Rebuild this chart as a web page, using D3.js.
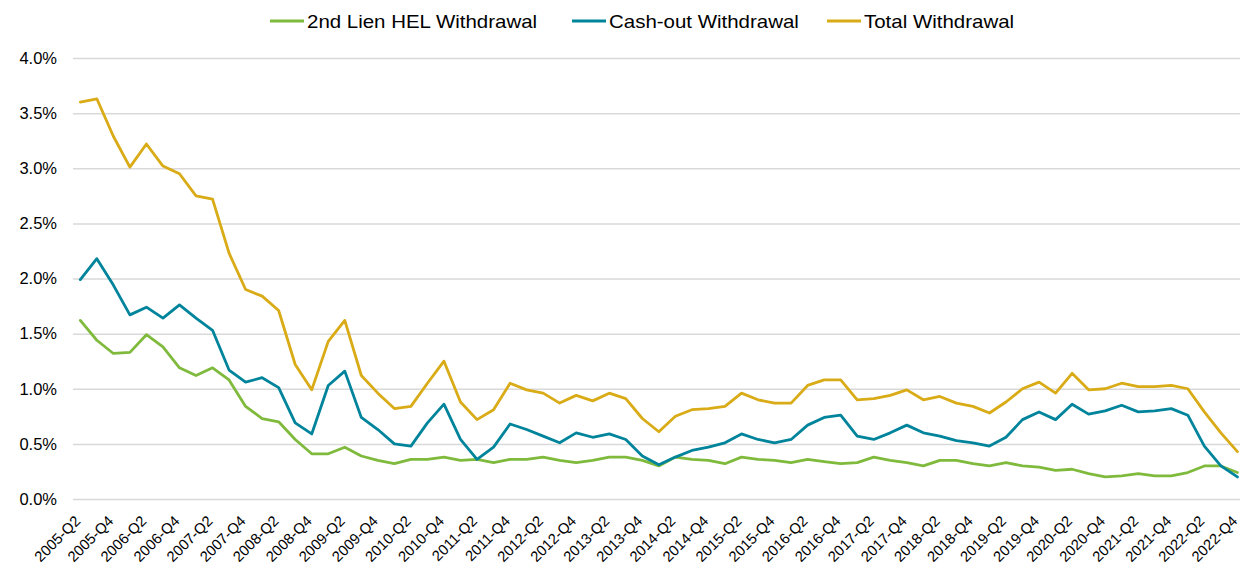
<!DOCTYPE html>
<html>
<head>
<meta charset="utf-8">
<script src="https://cdn.jsdelivr.net/npm/d3@7"></script>
<style>
  html, body { margin: 0; padding: 0; background: #fff; }
  svg { display: block; font-family: "Liberation Sans", Arial, sans-serif; }
</style>
</head>
<body>
<svg id="chart" width="1240" height="571"></svg>
<script>
const quarters = [
  "2005-Q2","2005-Q3","2005-Q4",
  "2006-Q1","2006-Q2","2006-Q3","2006-Q4",
  "2007-Q1","2007-Q2","2007-Q3","2007-Q4",
  "2008-Q1","2008-Q2","2008-Q3","2008-Q4",
  "2009-Q1","2009-Q2","2009-Q3","2009-Q4",
  "2010-Q1","2010-Q2","2010-Q3","2010-Q4",
  "2011-Q1","2011-Q2","2011-Q3","2011-Q4",
  "2012-Q1","2012-Q2","2012-Q3","2012-Q4",
  "2013-Q1","2013-Q2","2013-Q3","2013-Q4",
  "2014-Q1","2014-Q2","2014-Q3","2014-Q4",
  "2015-Q1","2015-Q2","2015-Q3","2015-Q4",
  "2016-Q1","2016-Q2","2016-Q3","2016-Q4",
  "2017-Q1","2017-Q2","2017-Q3","2017-Q4",
  "2018-Q1","2018-Q2","2018-Q3","2018-Q4",
  "2019-Q1","2019-Q2","2019-Q3","2019-Q4",
  "2020-Q1","2020-Q2","2020-Q3","2020-Q4",
  "2021-Q1","2021-Q2","2021-Q3","2021-Q4",
  "2022-Q1","2022-Q2","2022-Q3","2022-Q4"
];

const xTickLabels = [
  "2005-Q2","2005-Q4","2006-Q2","2006-Q4","2007-Q2","2007-Q4","2008-Q2","2008-Q4",
  "2009-Q2","2009-Q4","2010-Q2","2010-Q4","2011-Q2","2011-Q4","2012-Q2","2012-Q4",
  "2013-Q2","2013-Q4","2014-Q2","2014-Q4","2015-Q2","2015-Q4","2016-Q2","2016-Q4",
  "2017-Q2","2017-Q4","2018-Q2","2018-Q4","2019-Q2","2019-Q4","2020-Q2","2020-Q4",
  "2021-Q2","2021-Q4","2022-Q2","2022-Q4"
];

const yTicks = [0, 0.5, 1.0, 1.5, 2.0, 2.5, 3.0, 3.5, 4.0];

const seriesNames = ["2nd Lien HEL Withdrawal", "Cash-out Withdrawal", "Total Withdrawal"];
const seriesColors = ["#7fba3d", "#00849b", "#d9ab16"];

// values in percent
const secondLien = [
  1.62,1.44,1.32,1.33,1.49,1.38,1.19,1.12,1.19,1.08,0.84,0.73,0.70,0.54,0.41,0.41,0.47,0.39,0.35,0.32,0.36,
  0.36,0.38,0.35,0.36,0.33,0.36,0.36,0.38,0.35,0.33,0.35,0.38,0.38,0.35,0.30,0.38,0.36,0.35,0.32,0.38,0.36,0.35,0.33,0.36,
  0.34,0.32,0.33,0.38,0.35,0.33,0.30,0.35,0.35,0.32,0.30,0.33,0.30,0.29,0.26,0.27,0.23,0.20,0.21,0.23,0.21,0.21,0.24,0.30,0.30,0.24
];
const cashOut = [
  1.99,2.18,1.94,1.67,1.74,1.64,1.76,1.64,1.53,1.17,1.06,1.10,1.01,0.69,0.59,1.03,1.16,0.74,0.63,0.50,0.48,
  0.69,0.86,0.54,0.36,0.47,0.68,0.63,0.57,0.51,0.60,0.56,0.59,0.54,0.39,0.31,0.38,0.44,0.47,0.51,0.59,0.54,0.51,0.54,0.67,
  0.74,0.76,0.57,0.54,0.60,0.67,0.60,0.57,0.53,0.51,0.48,0.56,0.72,0.79,0.72,0.86,0.77,0.80,0.85,0.79,0.80,0.82,0.76,0.48,0.30,0.20
];
const total = [
  3.60,3.63,3.29,3.01,3.22,3.02,2.95,2.75,2.72,2.23,1.90,1.84,1.71,1.22,0.99,1.43,1.62,1.12,0.96,0.82,0.84,
  1.05,1.25,0.88,0.72,0.81,1.05,0.99,0.96,0.87,0.94,0.89,0.96,0.91,0.73,0.61,0.75,0.81,0.82,0.84,0.96,0.90,0.87,0.87,1.03,
  1.08,1.08,0.90,0.91,0.94,0.99,0.90,0.93,0.87,0.84,0.78,0.88,1.00,1.06,0.96,1.14,0.99,1.00,1.05,1.02,1.02,1.03,1.00,0.79,0.60,0.43
];

const seriesValues = [secondLien, cashOut, total];

const svg = d3.select("#chart");
const gridLeft = 73, gridRight = 1240;
const yTop = 58, yBottom = 499;

const x = d3.scalePoint().domain(quarters).range([80.3, 1237.4]);
const y = d3.scaleLinear().domain([0, 4]).range([yBottom, yTop]);

// gridlines + y axis labels
const yAxis = d3.axisLeft(y)
  .tickValues(yTicks)
  .tickFormat(d => d3.format(".1f")(d) + "%")
  .tickSize(-(gridRight - gridLeft))
  .tickPadding(16);

const gy = svg.append("g")
  .attr("transform", `translate(${gridLeft},0)`)
  .call(yAxis);
gy.select(".domain").remove();
gy.selectAll(".tick line").attr("stroke", "#d9d9d9").attr("stroke-width", 1.5);
gy.selectAll(".tick text")
  .attr("fill", "#000")
  .attr("font-size", 16.5)
  .attr("font-family", "'Liberation Sans', Arial, sans-serif");

// x axis
const xAxis = d3.axisBottom(x).tickValues(xTickLabels).tickSize(0).tickPadding(0);
const gx = svg.append("g").attr("transform", `translate(0,${yBottom})`).call(xAxis);
gx.select(".domain").remove();
gx.selectAll(".tick text")
  .attr("fill", "#000")
  .attr("font-size", 14.8)
  .attr("font-family", "'Liberation Sans', Arial, sans-serif")
  .attr("text-anchor", "end")
  .attr("dy", 0)
  .attr("y", 0)
  .attr("transform", "translate(0.5,23) rotate(-45)");

// lines
const line = d3.line()
  .x((d, i) => x(quarters[i]))
  .y(d => y(d));

svg.append("g").selectAll("path")
  .data(seriesValues)
  .join("path")
  .attr("d", d => line(d))
  .attr("fill", "none")
  .attr("stroke", (d, i) => seriesColors[i])
  .attr("stroke-width", 2.8)
  .attr("stroke-linejoin", "round")
  .attr("stroke-linecap", "round");

// legend
const legendStarts = [270, 572, 827];
const legend = svg.append("g");
seriesNames.forEach((name, i) => {
  const g = legend.append("g").attr("transform", `translate(${legendStarts[i]},21)`);
  g.append("line")
    .attr("x1", 0).attr("x2", 34).attr("y1", 0).attr("y2", 0)
    .attr("stroke", seriesColors[i]).attr("stroke-width", 3);
  g.append("text")
    .attr("transform", "translate(37,6.5) scale(1.17,1)")
    .attr("font-size", 17.5)
    .attr("fill", "#000")
    .text(name);
});
</script>
</body>
</html>
